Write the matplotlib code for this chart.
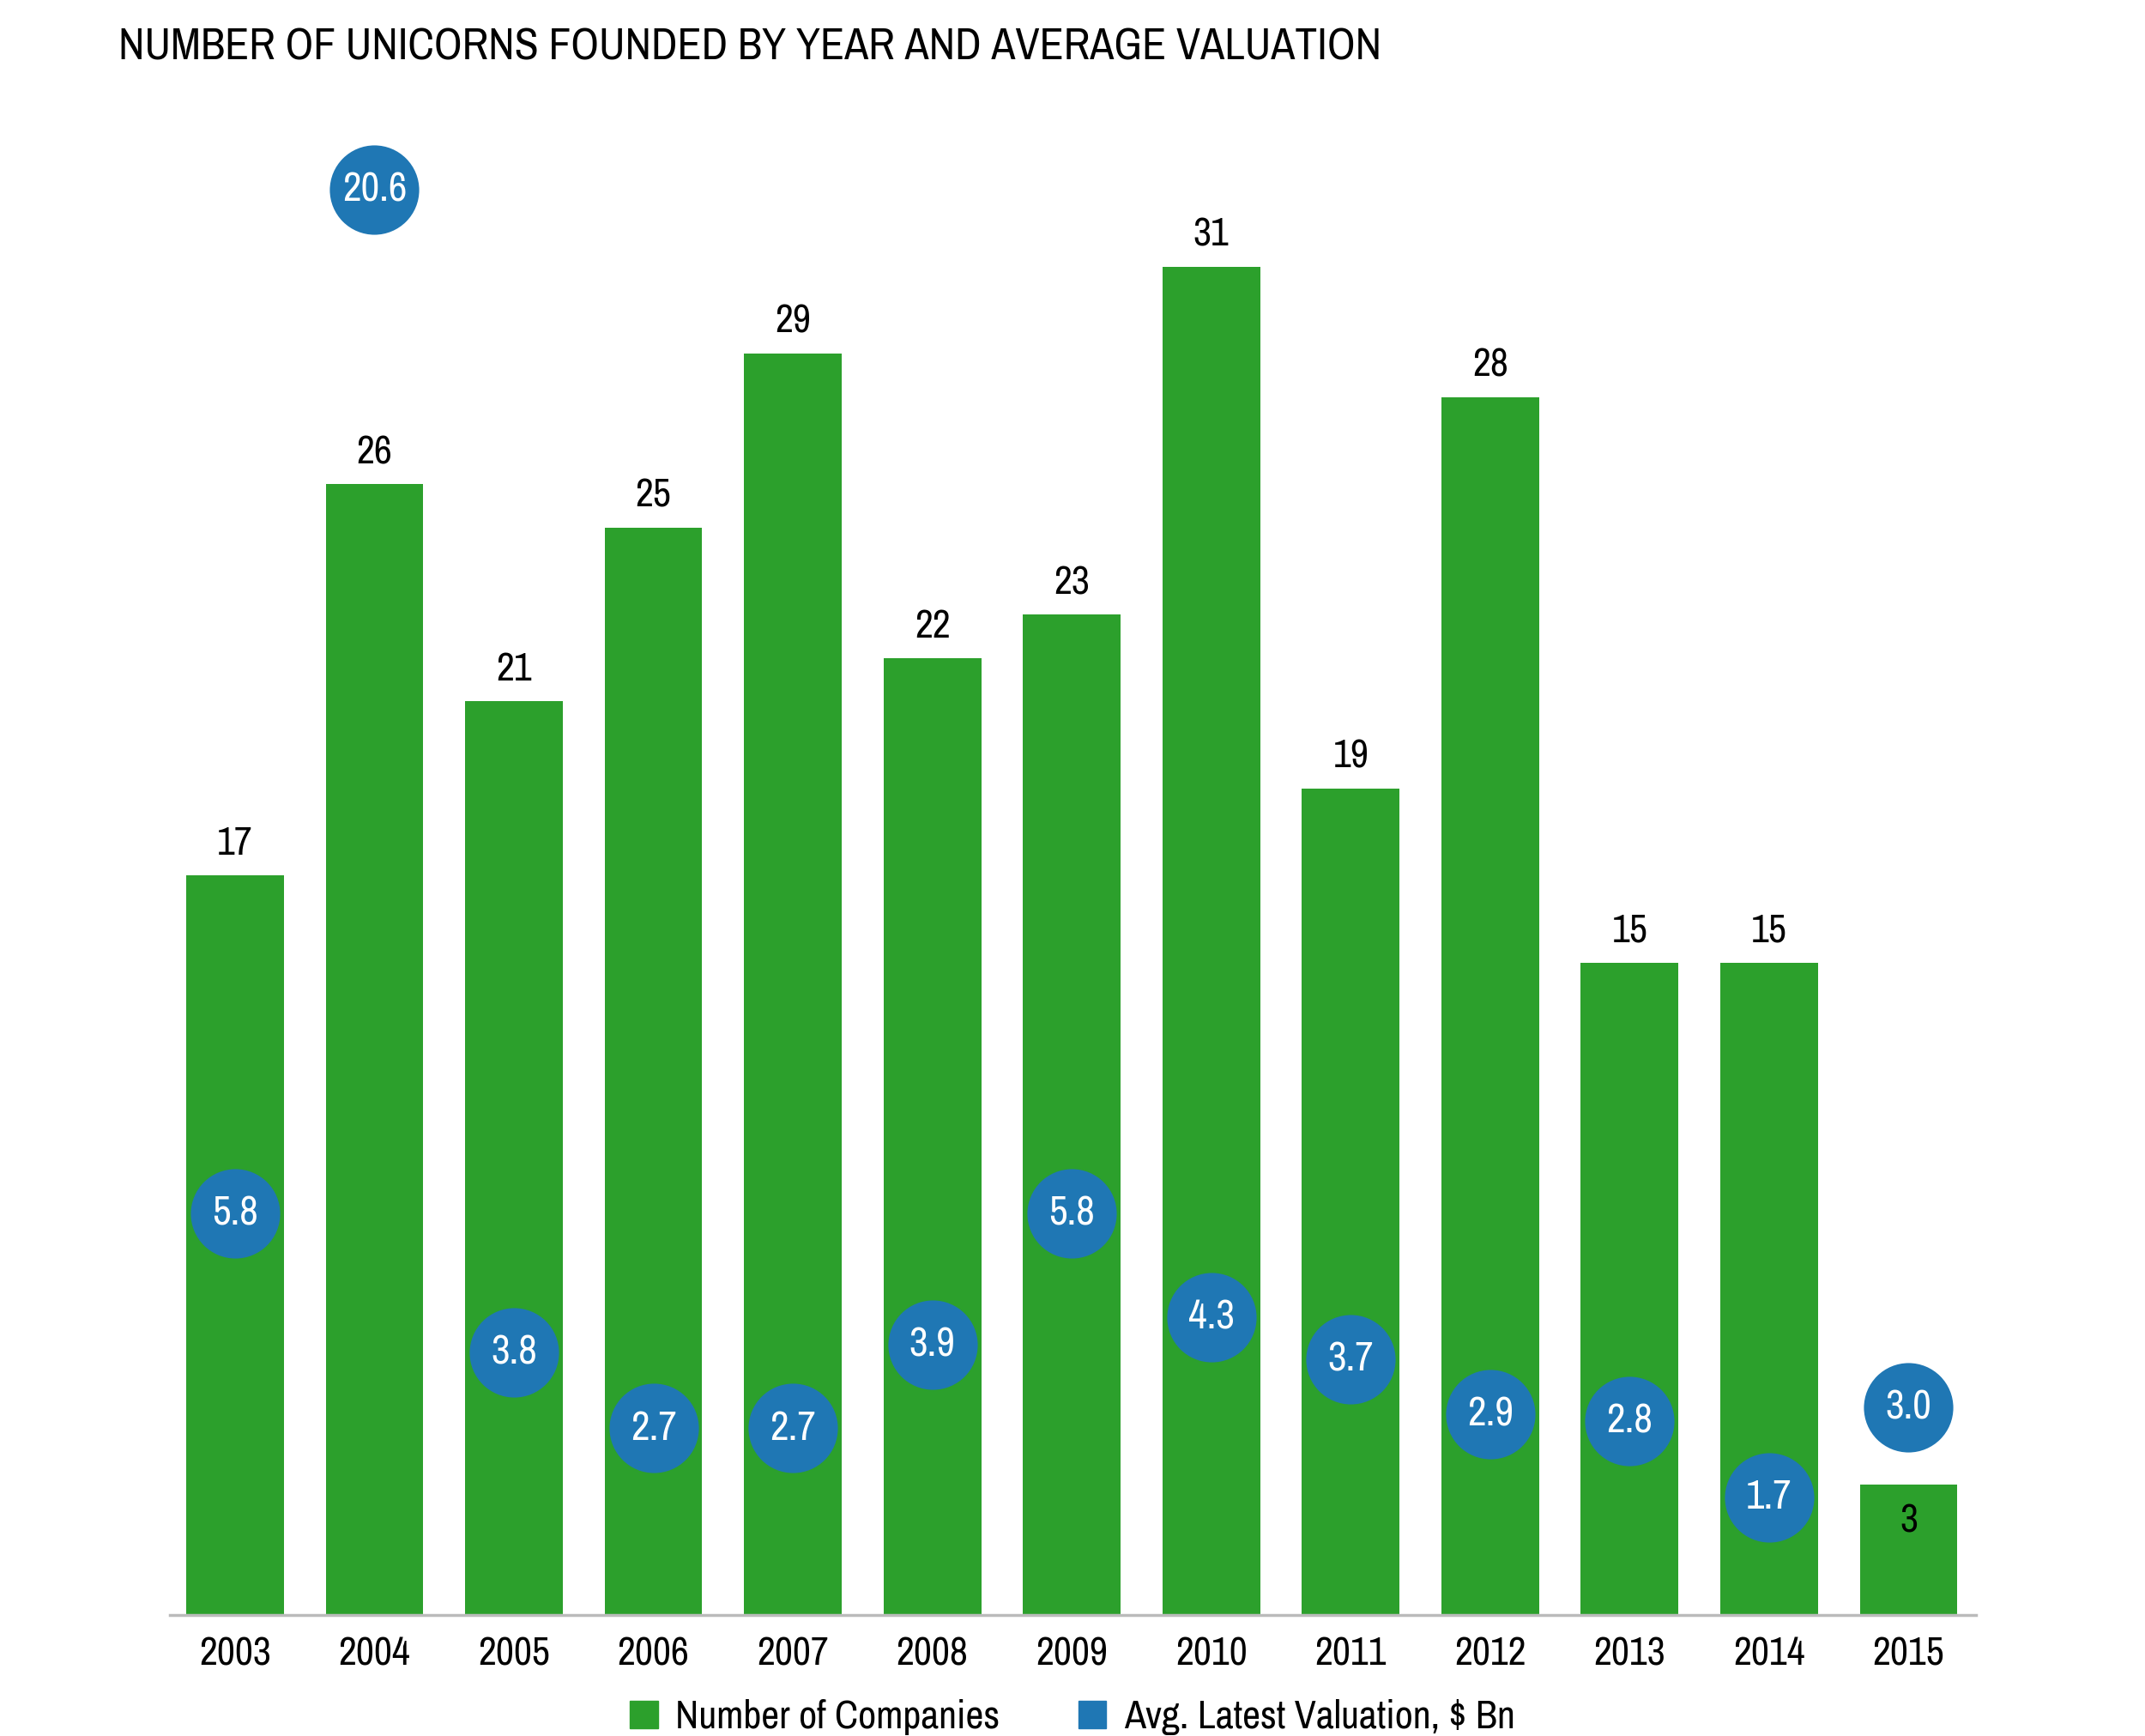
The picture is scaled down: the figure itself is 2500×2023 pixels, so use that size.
import matplotlib
matplotlib.use("Agg")
import matplotlib.pyplot as plt
from matplotlib import font_manager
from matplotlib.patches import Patch

# narrow font if there is one, else Roboto
names = sorted({f.name for f in font_manager.fontManager.ttflist})
narrow = [n for n in names if 'Condensed' in n or 'Narrow' in n]
font = narrow[0] if narrow else 'Roboto'
plt.rcParams['font.family'] = [font, 'DejaVu Sans']

years = ['2003', '2004', '2005', '2006', '2007', '2008', '2009',
         '2010', '2011', '2012', '2013', '2014', '2015']
companies = [17, 26, 21, 25, 29, 22, 23, 31, 19, 28, 15, 15, 3]
valuation = [5.8, 20.6, 3.8, 2.7, 2.7, 3.9, 5.8, 4.3, 3.7, 2.9, 2.8, 1.7, 3.0]

green = '#2ca02c'
blue = '#1f77b4'

fig = plt.figure(figsize=(25, 20.23), dpi=100)
ax = fig.add_axes([0.079, 0.0697, 0.842, 0.877])
x = list(range(len(years)))

ax.bar(x, companies, width=0.70, color=green, zorder=2)
ax.set_xlim(-0.47, 12.48)
ax.set_ylim(0, 35)
ax.set_xticks(x)
ax.set_xticklabels(years, fontsize=33)
ax.tick_params(axis='x', length=0, pad=18)
ax.set_yticks([])
for s in ['top', 'left', 'right']:
    ax.spines[s].set_visible(False)
ax.spines['bottom'].set_color('#bbbbbb')
ax.spines['bottom'].set_linewidth(2.5)

# labels over bars (last one sits inside, circle is above it)
for i, v in enumerate(companies):
    off = 37 if i < len(companies) - 1 else -43
    ax.annotate(str(v), (i, v), xytext=(0, off), textcoords='offset pixels',
                ha='center', va='center', fontsize=33, color='black')

ax2 = ax.twinx()
ax2.set_ylim(0, 22)
ax2.set_axis_off()
ax2.scatter(x, valuation, s=75**2, color=blue, zorder=3, linewidths=0)
for i, v in enumerate(valuation):
    ax2.text(i, v, f'{v:.1f}', ha='center', va='center', fontsize=34,
             color='white', zorder=4)

fig.text(0.0552, 0.973, 'NUMBER OF UNICORNS FOUNDED BY YEAR AND AVERAGE VALUATION',
         fontsize=37, ha='left', va='center')

handles = [Patch(color=green, label='Number of Companies'),
           Patch(color=blue, label='Avg. Latest Valuation, $ Bn')]
fig.legend(handles=handles, loc='center', bbox_to_anchor=(0.5, 0.011), ncol=2,
           frameon=False, fontsize=33, handlelength=0.7, handleheight=0.7,
           handletextpad=0.45, columnspacing=2.0)

fig.savefig('out.png', dpi=100)
